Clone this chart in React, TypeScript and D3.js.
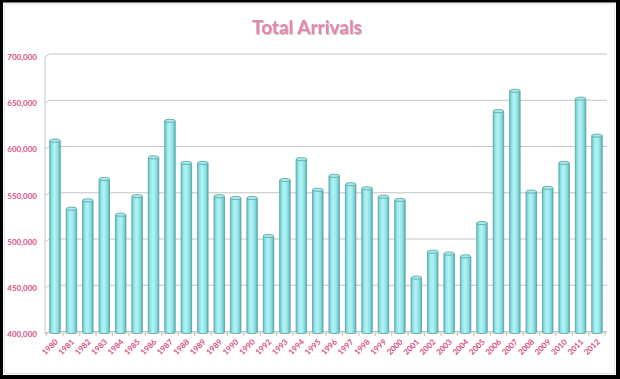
import React from "react";
import * as d3 from "d3";

const years = ["1980","1981","1982","1983","1984","1985","1986","1987","1988","1989","1989","1990","1990","1992","1993","1994","1995","1996","1997","1998","1999","2000","2001","2002","2003","2004","2005","2006","2007","2008","2009","2010","2011","2012"];
const arrivals = [608000,534500,543500,566500,528000,548000,590000,629500,584000,584000,548000,546000,546000,505000,565500,588000,555000,570000,561000,556500,547500,544000,460000,488000,486000,483000,519000,640000,662000,553000,557000,584000,653500,613500];
const yTicks = [400000,450000,500000,550000,600000,650000,700000];

const W = 620, H = 379;

export default function App() {
  const idx = years.map((_, i) => i);
  const x = d3.scaleBand<number>().domain(idx).range([46.8, 605.2]).paddingInner(0.36).paddingOuter(0.18);
  const yBack = d3.scaleLinear().domain([400000, 700000]).range([331.5, 54]);
  const yFront = d3.scaleLinear().domain([400000, 700000]).range([334, 57]);
  const fmt = d3.format(",");
  const bw = x.bandwidth();
  const floorY = 333;
  const pink = "#dc4f88";

  return (
    <svg width={W} height={H} style={{ position: "absolute", left: 0, top: 0, display: "block" }}>
      <defs>
        <linearGradient id="cyl" x1="0" x2="1" y1="0" y2="0">
          <stop offset="0%" stopColor="#62c6c8" />
          <stop offset="25%" stopColor="#9ee9ea" />
          <stop offset="45%" stopColor="#b2f4f4" />
          <stop offset="75%" stopColor="#8fe1e2" />
          <stop offset="100%" stopColor="#55b4b6" />
        </linearGradient>
        <filter id="ts" x="-10%" y="-10%" width="120%" height="140%">
          <feDropShadow dx="0.8" dy="1" stdDeviation="0.6" floodColor="#999" floodOpacity="0.6" />
        </filter>
      </defs>
      <rect x={0} y={0} width={W} height={H} fill="#000" />
      <rect x={3} y={2.5} width={613} height={372.5} fill="#fff" />
      <rect x={4.5} y={4} width={610} height={369.5} fill="none" stroke="#e4e4e4" strokeWidth={1} />

      <text x={307} y={34} textAnchor="middle" fontFamily="Lato, 'Open Sans', sans-serif" fontWeight="bold" fontSize={19} fill="#e586b0" filter="url(#ts)">
        Total Arrivals
      </text>

      {/* left wall edge */}
      <line x1={45} x2={45} y1={yFront(700000)} y2={floorY + 1} stroke="#c4c4c4" strokeWidth={1} />
      {yTicks.map((t) => (
        <g key={t}>
          <line x1={45} y1={yFront(t)} x2={49.5} y2={yBack(t)} stroke="#c4c4c4" strokeWidth={1} />
          <line x1={49.5} y1={yBack(t)} x2={607} y2={yBack(t)} stroke="#c4c4c4" strokeWidth={1} />
          <text x={37} y={yFront(t) + 3} textAnchor="end" fontFamily="Lato, 'Open Sans', sans-serif" fontWeight="bold" fontSize={8} fill={pink}>
            {fmt(t)}
          </text>
        </g>
      ))}

      {/* floor */}
      <line x1={45} x2={603} y1={floorY} y2={floorY} stroke="#c4c4c4" strokeWidth={1} />
      <line x1={603} y1={floorY} x2={607} y2={yBack(400000)} stroke="#c4c4c4" strokeWidth={1} />
      {idx.concat([years.length]).map((i) => {
        const xx = i < years.length ? (x(i) as number) - (x.step() - bw) / 2 : (x(years.length - 1) as number) + bw + (x.step() - bw) / 2;
        return <line key={"t" + i} x1={xx} x2={xx} y1={floorY} y2={floorY + 3} stroke="#c4c4c4" strokeWidth={1} />;
      })}

      {arrivals.map((v, i) => {
        const x0 = x(i) as number;
        const top = yBack(v);
        const ry = 1.6;
        return (
          <g key={"b" + i}>
            <path
              d={`M${x0},${top + ry} L${x0},${floorY - 1} A${bw / 2},${ry} 0 0 0 ${x0 + bw},${floorY - 1} L${x0 + bw},${top + ry} Z`}
              fill="url(#cyl)"
              stroke="#5b9ea0"
              strokeWidth={0.8}
            />
            <ellipse cx={x0 + bw / 2} cy={top + ry} rx={bw / 2} ry={ry} fill="#a6ecec" stroke="#5b9ea0" strokeWidth={0.8} />
          </g>
        );
      })}

      {years.map((yr, i) => {
        const cx = (x(i) as number) + bw / 2;
        return (
          <text key={"l" + i} transform={`translate(${cx + 2},${floorY + 8}) rotate(-45)`} textAnchor="end" dominantBaseline="middle" fontFamily="Lato, 'Open Sans', sans-serif" fontWeight="bold" fontSize={8} fill={pink}>
            {yr}
          </text>
        );
      })}
    </svg>
  );
}
